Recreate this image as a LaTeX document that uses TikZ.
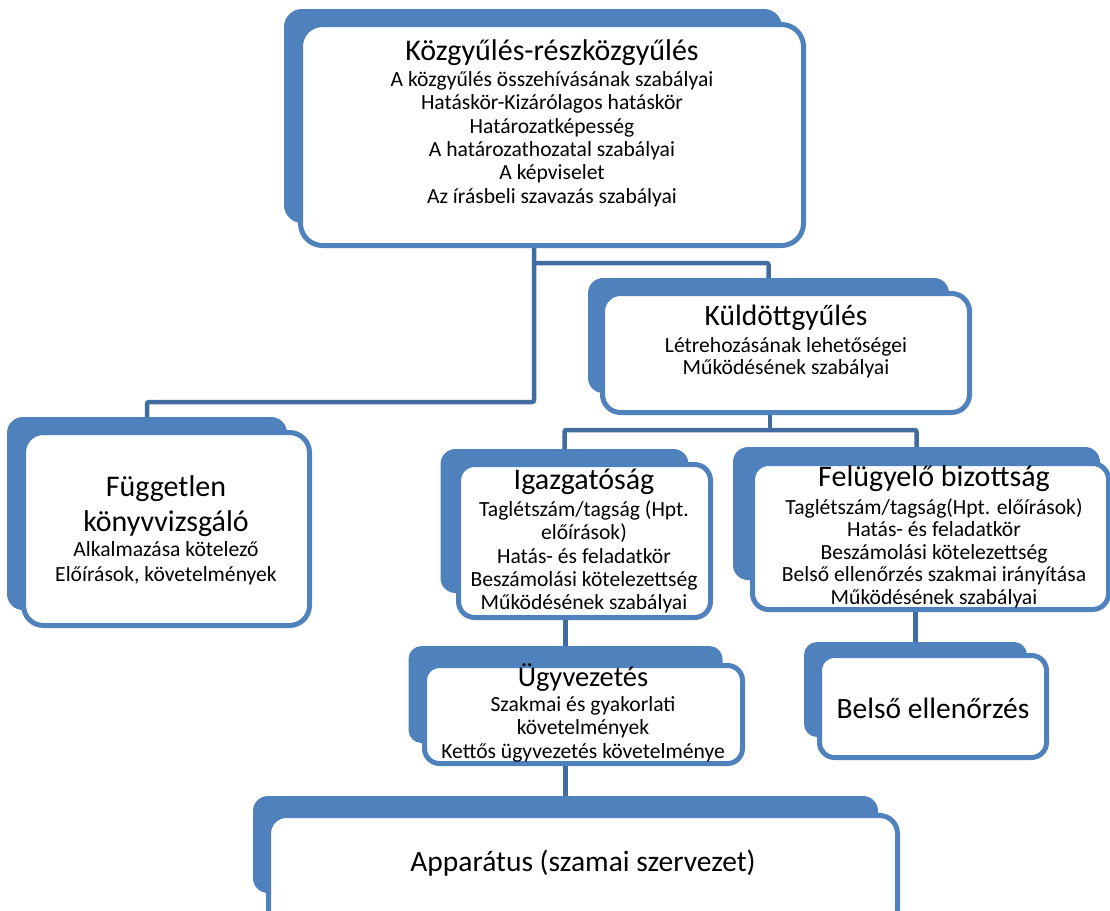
\documentclass[tikz,border=0pt]{standalone}
\usepackage{fontspec}
\setmainfont{Carlito}
\definecolor{boxblue}{HTML}{4F81BD}
\definecolor{linkblue}{HTML}{416C9F}
\tikzset{
  backbox/.style={fill=boxblue, draw=none, rounded corners=#1, inner sep=0pt, outer sep=0pt},
  frontbox/.style={fill=white, draw=boxblue, line width=5pt, rounded corners=#1, inner sep=0pt},
  link/.style={draw=linkblue, line width=4.5pt, rounded corners=2pt},
  titletext/.style={align=center, inner sep=0pt, font=\fontsize{#1}{#1}\selectfont},
  bodytext/.style={align=center, inner sep=0pt, font=\fontsize{21.6}{#1}\selectfont}
}
\begin{document}
\begin{tikzpicture}[x=1pt,y=-1pt]
\useasboundingbox (0,0) rectangle (1110,910);
% ---- back boxes
\node[backbox=18pt, minimum width=498pt, minimum height=214pt] (b1back) at (533,116) {};
\node[backbox=16pt, minimum width=280pt, minimum height=193pt] (fback) at (147,513.5) {};
\node[backbox=15pt, minimum width=361pt, minimum height=115pt] (kback) at (768.5,335.5) {};
\node[backbox=15pt, minimum width=248pt, minimum height=144pt] (iback) at (564.5,521) {};
\node[backbox=15pt, minimum width=367pt, minimum height=133pt] (fbback) at (916.5,513.5) {};
\node[backbox=13pt, minimum width=223pt, minimum height=95pt] (beback) at (915.5,689.5) {};
\node[backbox=13pt, minimum width=314pt, minimum height=97pt] (uback) at (565.5,694.5) {};
\node[backbox=15pt, minimum width=625pt, minimum height=97pt] (aback) at (565.5,844.5) {};
% ---- front boxes
\node[frontbox=22pt, minimum width=503pt, minimum height=221pt] (b1front) at (552,135) {};
\node[frontbox=20pt, minimum width=286pt, minimum height=193pt] (ffront) at (166.5,529) {};
\node[frontbox=18pt, minimum width=367pt, minimum height=119pt] (kfront) at (786,353) {};
\node[frontbox=16pt, minimum width=252pt, minimum height=153pt] (ifront) at (584.5,541) {};
\node[frontbox=16pt, minimum width=356pt, minimum height=146pt] (fbfront) at (930.5,536.5) {};
\node[frontbox=15pt, minimum width=227pt, minimum height=102pt] (befront) at (933,706.5) {};
\node[frontbox=15pt, minimum width=318pt, minimum height=98pt] (ufront) at (583.5,714.5) {};
\node[frontbox=18pt, minimum width=629pt, minimum height=112pt] (afront) at (583,871.5) {};
% ---- connectors
\coordinate (c1) at (534,402);
\coordinate (c2) at (534,263);
\coordinate (c3) at (770,430);
\draw[link] (c1 |- b1front.south) -- (c1) -| (fback.north);
\draw[link] (c2) -| (kback.north);
\draw[link] (c3 |- kfront.south) -- (c3);
\draw[link] (iback.north) |- (c3) -| (fbback.north);
\draw[link] (uback.north |- ifront.south) -- (uback.north);
\draw[link] (beback.north |- fbfront.south) -- (beback.north);
\draw[link] (aback.north |- ufront.south) -- (aback.north);
% ---- texts
\node[titletext=30] (t1) at (552,53) {Közgyűlés-részközgyűlés};
\node[bodytext=23.4] (d1) at (552,139) {A közgyűlés összehívásának szabályai\\Hatáskör-Kizárólagos hatáskör\\Határozatképesség\\A határozathozatal szabályai\\A képviselet\\Az írásbeli szavazás szabályai};
\node[titletext=30, font=\fontsize{30}{35}\selectfont] (t2) at (166,506) {Független\\könyvvizsgáló};
\node[bodytext=25] (d2) at (166,563) {Alkalmazása kötelező\\Előírások, követelmények};
\node[titletext=29.5] (t3) at (786,318) {Küldöttgyűlés};
\node[bodytext=22] (d3) at (786,358) {Létrehozásának lehetőségei\\Működésének szabályai};
\node[titletext=30] (t4) at (584,482) {Igazgatóság};
\node[bodytext=23.25] (d4) at (584,557) {Taglétszám/tagság (Hpt.\\előírások)\\Hatás- és feladatkör\\Beszámolási kötelezettség\\Működésének szabályai};
\node[titletext=30] (t5) at (934,479) {Felügyelő bizottság};
\node[bodytext=22.5] (d5) at (934,553) {Taglétszám/tagság(Hpt. előírások)\\Hatás- és feladatkör\\Beszámolási kötelezettség\\Belső ellenőrzés szakmai irányítása\\Működésének szabályai};
\node[titletext=29.5] (t6) at (933,708) {Belső ellenőrzés};
\node[titletext=28.5] (t7) at (583,678) {Ügyvezetés};
\node[bodytext=23.5] (d7) at (583,729) {Szakmai és gyakorlati\\követelmények\\Kettős ügyvezetés követelménye};
\node[titletext=29.5] (t8) at (583,863) {Apparátus (szamai szervezet)};
\end{tikzpicture}
\end{document}
